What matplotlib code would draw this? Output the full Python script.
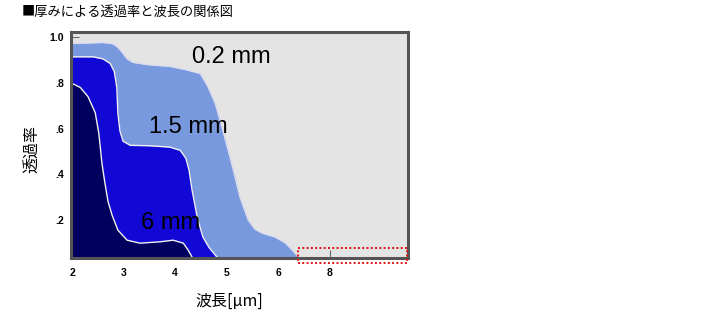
import matplotlib
matplotlib.use("Agg")
import matplotlib.pyplot as plt
from matplotlib.patches import Rectangle

# x values are axis positions (the last tick is labelled 8 but sits where 7 would be)
x_02 = [1.98, 2.35, 2.60, 2.78, 2.87, 2.97, 3.07, 3.18, 3.46, 3.90, 4.19, 4.49, 4.64,
        4.78, 4.91, 5.03, 5.13, 5.26, 5.42, 5.55, 5.69, 5.94, 6.14, 6.27, 6.39, 6.43]
y_02 = [0.972, 0.975, 0.977, 0.972, 0.960, 0.935, 0.905, 0.890, 0.880, 0.872, 0.859, 0.841, 0.783,
        0.710, 0.607, 0.506, 0.420, 0.300, 0.200, 0.160, 0.143, 0.126, 0.100, 0.070, 0.040, 0.034]

x_15 = [1.98, 2.41, 2.60, 2.74, 2.82, 2.87, 2.89, 2.93, 2.99, 3.13, 3.51, 3.90, 4.10,
        4.21, 4.27, 4.33, 4.43, 4.54, 4.66, 4.78, 4.83]
y_15 = [0.914, 0.914, 0.905, 0.885, 0.850, 0.780, 0.667, 0.590, 0.545, 0.527, 0.525, 0.519, 0.505,
        0.470, 0.420, 0.331, 0.213, 0.126, 0.080, 0.047, 0.034]

x_6 = [1.98, 2.16, 2.31, 2.45, 2.52, 2.58, 2.64, 2.70, 2.78, 2.89, 3.07, 3.32, 3.71,
       3.96, 4.16, 4.25, 4.33]
y_6 = [0.800, 0.780, 0.740, 0.670, 0.580, 0.450, 0.360, 0.280, 0.220, 0.156, 0.112, 0.099, 0.105,
       0.112, 0.099, 0.070, 0.038]

xtick_pos = [2, 3, 4, 5, 6, 7]
xtick_labels = ["2", "3", "4", "5", "6", "8"]
ytick_pos = [0.2, 0.4, 0.6, 0.8, 1.0]
ytick_labels = [".2", ".4", ".6", ".8", "1.0"]

series = [
    ("0.2 mm", x_02, y_02, "#7899de", "#dcdcf0", (5.09, 0.912)),
    ("1.5 mm", x_15, y_15, "#1208d6", "#f0f0f0", (4.25, 0.606)),
    ("6 mm", x_6, y_6, "#01005e", "#f0f0f0", (3.92, 0.187)),
]

cjk = ["Noto Sans CJK JP", "DejaVu Sans"]

fig = plt.figure(figsize=(7.2, 3.12), dpi=100)
ax = fig.add_axes([0.0986, 0.173, 0.468, 0.724])
ax.set_facecolor("#e4e4e4")

for name, xs, ys, fc, ec, (tx, ty) in series:
    ax.fill_between(xs, 0, ys, color=fc, lw=0, zorder=2)
    ax.plot(xs, ys, color=ec, lw=1.0, zorder=3)

for name, xs, ys, fc, ec, (tx, ty) in series:
    ax.text(tx, ty, name, fontsize=17, family="Liberation Sans",
            ha="center", va="center", color="black", zorder=5)

ax.set_xlim(1.98, 8.52)
ax.set_ylim(0.034, 1.022)

ax.set_xticks(xtick_pos)
ax.set_xticklabels(xtick_labels, fontsize=7.5, fontweight="bold", family="Liberation Sans")
ax.set_yticks(ytick_pos)
ax.set_yticklabels(ytick_labels, fontsize=7.5, fontweight="bold", family="Liberation Sans")
ax.tick_params(axis="both", direction="in", length=6, width=0.8, color="#666666", pad=5)
ax.tick_params(axis="x", pad=7)
for t in ax.xaxis.get_major_ticks() + ax.yaxis.get_major_ticks():
    t.tick1line.set_zorder(4)

for s in ax.spines.values():
    s.set_color("#555555")
    s.set_linewidth(2.2)
    s.set_zorder(6)

# red dotted box near the bottom right
box = Rectangle((6.39, 0.012), 2.11, 0.065, fill=False, ec="#e01010", lw=1.4,
                ls=(0, (1, 1.2)), clip_on=False, zorder=7)
ax.add_patch(box)

fig.text(22 / 720, 1 - 12 / 312, "■厚みによる透過率と波長の関係図", fontsize=9.5,
         family=cjk, ha="left", va="center")
fig.text(229 / 720, 1 - 301 / 312, "波長[μm]", fontsize=11.5,
         family=cjk, ha="center", va="center")
fig.text(32 / 720, 1 - 149 / 312, "透過率", fontsize=11.5, rotation=90,
         family=cjk, ha="center", va="center")

fig.savefig("out.png", dpi=100)
